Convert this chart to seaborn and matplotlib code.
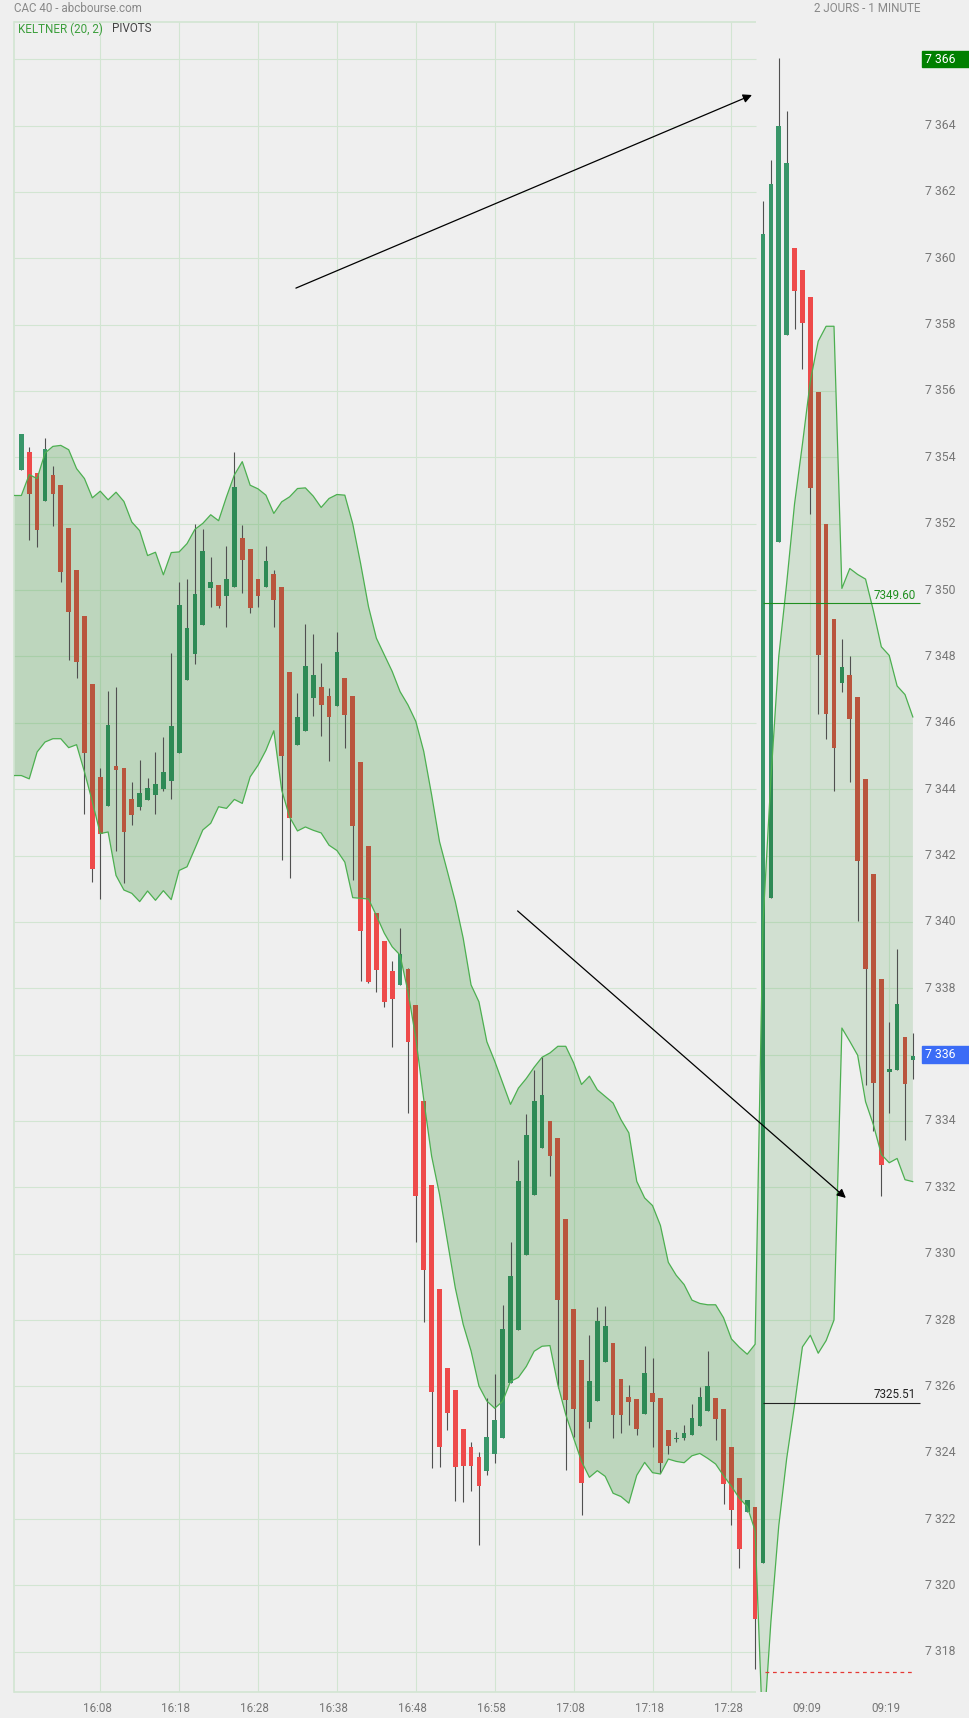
import numpy as np
import pandas as pd
import matplotlib
matplotlib.use("Agg")
import matplotlib.pyplot as plt
import matplotlib.transforms as mtransforms
from matplotlib.patches import Rectangle
import seaborn as sns

# ---------------------------------------------------------------------------
# DATA  (CAC 40, 1 minute candles, last 94 of day 1 + 20 of day 2)
# ---------------------------------------------------------------------------
opens = [
    7353.61, 7354.16, 7353.53, 7352.67, 7353.46, 7353.16, 7351.86, 7350.59, 7349.21, 7347.16,
    7344.38, 7343.50, 7344.71, 7344.65, 7343.69, 7343.47, 7343.66, 7343.83, 7344.01, 7344.26,
    7345.08, 7347.29, 7348.07, 7348.94, 7350.06, 7350.16, 7349.82, 7350.09, 7351.58, 7351.25,
    7350.34, 7350.09, 7350.49, 7350.10, 7347.54, 7345.33, 7345.76, 7346.74, 7347.09, 7346.81,
    7346.50, 7347.34, 7346.80, 7344.83, 7342.30, 7340.26, 7339.42, 7338.51, 7338.10, 7338.57,
    7337.49, 7334.60, 7332.07, 7328.93, 7326.55, 7325.89, 7324.71, 7324.17, 7323.87, 7323.45,
    7323.96, 7324.46, 7326.10, 7327.71, 7329.95, 7331.76, 7333.17, 7333.99, 7333.48, 7331.04,
    7328.32, 7326.81, 7324.94, 7325.55, 7326.75, 7327.30, 7326.21, 7325.67, 7325.61, 7325.16,
    7325.79, 7325.65, 7324.68, 7324.40, 7324.44, 7324.53, 7324.81, 7325.26, 7325.66, 7325.32,
    7324.17, 7323.25, 7322.21, 7322.36,
    7320.67, 7340.72, 7351.45, 7357.68, 7360.30, 7359.65, 7358.83, 7355.97, 7352.00, 7349.12,
    7347.21, 7347.45, 7346.78, 7344.30, 7341.43, 7338.27, 7335.48, 7335.53, 7336.52, 7335.84,
]
highs = [
    7354.70, 7354.31, 7353.53, 7354.58, 7353.74, 7353.16, 7351.86, 7350.59, 7349.21, 7347.16,
    7344.63, 7346.97, 7347.08, 7344.65, 7344.21, 7344.87, 7344.33, 7345.12, 7345.56, 7348.09,
    7350.24, 7350.32, 7351.98, 7351.85, 7351.00, 7350.16, 7351.34, 7354.15, 7351.95, 7351.25,
    7350.34, 7351.34, 7350.59, 7350.10, 7347.54, 7346.91, 7348.98, 7348.68, 7347.79, 7347.06,
    7348.74, 7347.34, 7346.80, 7344.83, 7342.30, 7340.26, 7339.42, 7338.81, 7339.81, 7338.60,
    7337.49, 7334.60, 7332.07, 7328.93, 7326.55, 7325.89, 7324.71, 7324.33, 7324.03, 7325.66,
    7326.36, 7328.46, 7330.35, 7332.82, 7334.21, 7335.54, 7335.92, 7333.99, 7333.48, 7331.04,
    7328.32, 7326.81, 7327.55, 7328.39, 7328.42, 7327.30, 7326.21, 7326.03, 7325.61, 7327.22,
    7326.85, 7325.65, 7324.68, 7324.62, 7324.85, 7325.47, 7325.98, 7327.07, 7325.66, 7325.32,
    7324.17, 7323.25, 7322.57, 7322.36,
    7361.72, 7362.96, 7366.05, 7364.44, 7360.30, 7359.65, 7358.83, 7355.97, 7352.00, 7349.12,
    7348.54, 7348.01, 7346.78, 7344.30, 7341.43, 7338.27, 7336.99, 7339.19, 7336.52, 7336.65,
]
lows = [
    7353.61, 7351.52, 7351.31, 7352.67, 7351.94, 7350.25, 7347.90, 7347.36, 7343.26, 7341.19,
    7340.69, 7343.50, 7342.14, 7341.16, 7342.92, 7343.38, 7343.66, 7343.26, 7343.93, 7343.71,
    7345.08, 7347.29, 7347.77, 7348.94, 7349.48, 7349.46, 7348.88, 7350.09, 7349.91, 7349.31,
    7349.49, 7350.09, 7348.88, 7341.86, 7341.32, 7345.33, 7345.76, 7346.20, 7345.60, 7344.84,
    7346.50, 7345.25, 7341.27, 7338.22, 7338.16, 7337.89, 7337.44, 7336.23, 7338.10, 7334.25,
    7330.36, 7327.93, 7323.53, 7323.57, 7324.70, 7322.56, 7322.53, 7322.86, 7321.22, 7323.33,
    7323.68, 7324.46, 7326.10, 7327.71, 7329.95, 7331.76, 7333.17, 7332.35, 7325.95, 7323.49,
    7324.49, 7322.13, 7324.76, 7325.55, 7326.75, 7324.45, 7324.60, 7324.84, 7324.54, 7325.16,
    7324.18, 7323.38, 7323.96, 7324.31, 7324.39, 7324.53, 7324.81, 7325.26, 7324.38, 7322.46,
    7321.82, 7320.52, 7322.21, 7317.47,
    7320.67, 7340.72, 7351.45, 7357.68, 7357.86, 7356.66, 7352.29, 7346.26, 7345.51, 7343.93,
    7346.92, 7344.23, 7340.04, 7335.09, 7333.69, 7331.73, 7334.24, 7335.53, 7333.44, 7335.25,
]
closes = [
    7354.70, 7352.90, 7351.82, 7354.25, 7352.88, 7350.55, 7349.33, 7347.84, 7345.08, 7341.60,
    7342.65, 7345.92, 7344.58, 7342.71, 7343.23, 7343.87, 7344.02, 7344.17, 7344.53, 7345.89,
    7349.54, 7348.87, 7349.87, 7351.19, 7350.25, 7349.52, 7350.34, 7353.10, 7350.90, 7349.46,
    7349.82, 7350.88, 7349.70, 7344.99, 7343.13, 7346.18, 7347.72, 7347.45, 7346.53, 7346.17,
    7348.14, 7346.24, 7342.90, 7339.73, 7338.19, 7338.55, 7337.59, 7337.68, 7339.03, 7336.38,
    7331.73, 7329.50, 7325.82, 7324.17, 7325.20, 7323.57, 7323.60, 7323.60, 7322.99, 7324.47,
    7324.98, 7327.74, 7329.32, 7332.18, 7333.57, 7334.59, 7334.77, 7332.95, 7328.61, 7325.58,
    7325.33, 7323.08, 7326.16, 7327.96, 7327.81, 7325.13, 7325.15, 7325.52, 7324.73, 7326.39,
    7325.52, 7323.70, 7324.19, 7324.44, 7324.59, 7325.06, 7325.68, 7326.02, 7325.02, 7323.06,
    7322.29, 7321.10, 7322.57, 7318.98,
    7360.73, 7362.25, 7363.98, 7362.87, 7359.01, 7358.06, 7353.08, 7348.03, 7346.26, 7345.23,
    7347.68, 7346.10, 7341.84, 7338.58, 7335.15, 7332.68, 7335.58, 7337.53, 7335.10, 7335.95,
]

# Keltner (20, 2) bands, one value per candle slot from -1 to 113
band_x = list(range(-1, 114))
keltner_up = [
    7352.85,
    7352.85, 7353.48, 7353.36, 7354.13, 7354.33, 7354.36, 7354.23, 7353.66, 7353.36, 7352.78,
    7352.98, 7352.72, 7352.95, 7352.67, 7352.05, 7351.79, 7351.04, 7351.14, 7350.46, 7351.13,
    7351.15, 7351.40, 7351.83, 7352.01, 7352.27, 7352.09, 7352.81, 7353.47, 7353.87, 7353.16,
    7353.05, 7352.86, 7352.31, 7352.66, 7352.81, 7353.06, 7353.08, 7352.83, 7352.49, 7352.76,
    7352.88, 7352.86, 7352.00, 7350.80, 7349.50, 7348.55, 7348.05, 7347.55, 7346.94, 7346.54,
    7346.04, 7345.14, 7343.83, 7342.42, 7341.52, 7340.61, 7339.51, 7338.10, 7337.59, 7336.39,
    7335.80, 7335.15, 7334.50, 7334.99, 7335.28, 7335.62, 7335.92, 7336.05, 7336.25, 7336.25,
    7335.75, 7335.10, 7335.35, 7334.94, 7334.74, 7334.54, 7334.04, 7333.64, 7332.18, 7331.68,
    7331.45, 7330.85, 7329.74, 7329.35, 7329.07, 7328.60, 7328.50, 7328.46, 7328.46, 7328.07,
    7327.43, 7327.18, 7326.97, 7327.27,
    7339.97, 7344.30, 7348.00, 7350.20, 7352.60, 7354.40, 7356.30, 7357.50, 7357.95, 7357.95,
    7350.05, 7350.65, 7350.47, 7350.33, 7349.37, 7348.29, 7348.03, 7347.11, 7346.85, 7346.17,
]
keltner_low = [
    7344.41,
    7344.41, 7344.31, 7345.12, 7345.42, 7345.52, 7345.52, 7345.25, 7345.34, 7344.52, 7343.62,
    7342.66, 7342.71, 7341.40, 7340.96, 7340.86, 7340.61, 7340.93, 7340.65, 7340.94, 7340.67,
    7341.55, 7341.66, 7342.21, 7342.77, 7342.97, 7343.47, 7343.42, 7343.69, 7343.57, 7344.37,
    7344.72, 7345.17, 7345.76, 7343.97, 7343.16, 7342.74, 7342.86, 7342.76, 7342.68, 7342.31,
    7342.15, 7341.80, 7340.73, 7340.71, 7340.69, 7340.19, 7339.66, 7339.25, 7339.00, 7337.90,
    7336.49, 7334.65, 7332.94, 7331.79, 7330.38, 7328.97, 7327.87, 7327.07, 7326.01, 7325.56,
    7325.34, 7325.55, 7326.15, 7326.27, 7326.60, 7327.06, 7327.21, 7327.23, 7326.05, 7325.15,
    7324.44, 7323.74, 7323.26, 7323.46, 7323.29, 7322.78, 7322.68, 7322.48, 7323.32, 7323.71,
    7323.40, 7323.36, 7323.81, 7323.74, 7323.70, 7323.91, 7323.98, 7323.83, 7323.66, 7323.31,
    7322.99, 7322.63, 7322.38, 7321.65,
    7315.30, 7318.90, 7321.80, 7323.82, 7325.44, 7327.19, 7327.54, 7327.00, 7327.38, 7328.00,
    7336.80, 7336.40, 7335.98, 7334.58, 7333.88, 7332.99, 7332.74, 7332.87, 7332.23, 7332.17,
]

LAST_DAY1 = 93                      # last candle of day 1
time_pos    = [10, 20, 30, 40, 50, 60, 70, 80, 90, 100, 110]
time_labels = ["16:08", "16:18", "16:28", "16:38", "16:48", "16:58",
               "17:08", "17:18", "17:28", "09:09", "09:19"]
price_ticks = list(range(7318, 7367, 2))
day_high    = 7366
last_price  = 7336
pivot_r     = 7349.60
pivot_s     = 7325.51
prev_low    = 7317.40

arrow_up_start, arrow_up_end = (34.8, 7359.10), (92.6, 7364.92)
arrow_dn_start, arrow_dn_end = (62.9, 7340.33), (104.5, 7331.68)

# ---------------------------------------------------------------------------
# STYLE
# ---------------------------------------------------------------------------
COLORS = {
    "bg"       : "#efefef",
    "grid"     : "#d2e5d2",
    "fill"     : "#4a9e4a",
    "band"     : "#4caf50",
    "red"      : "#ee4a4a",
    "red_in"   : "#b9553d",
    "green"    : "#389669",
    "green_in" : "#2e8a55",
    "wick"     : "#505050",
    "label"    : "#777777",
}

sns.set_theme(style="white", rc={"axes.facecolor": COLORS["bg"],
                                 "figure.facecolor": COLORS["bg"]})
plt.rcParams["font.family"] = ["Roboto", "DejaVu Sans"]
FS = 8.4

W, H = 969, 1718
fig = plt.figure(figsize=(W / 100, H / 100), dpi=100)
ax = fig.add_axes([14 / W, 26 / H, 906 / W, 1670 / H])
XMIN, XMAX = -0.93, 113.9
YMIN, YMAX = 7316.79, 7367.12
X_SPLIT = 93.15

df = pd.DataFrame({"o": opens, "h": highs, "l": lows, "c": closes})
df["i"] = np.arange(len(df))
bands = pd.DataFrame({"x": band_x, "up": keltner_up, "low": keltner_low})

# ---------------------------------------------------------------------------
# BANDS (fills), day 1 darker, day 2 lighter
# ---------------------------------------------------------------------------
b1 = bands[bands["x"] <= LAST_DAY1]
b2 = bands[bands["x"] >= LAST_DAY1]
poly1 = ax.fill(np.r_[b1["x"], b1["x"][::-1]], np.r_[b1["up"], b1["low"][::-1]],
                color=COLORS["fill"], alpha=0.30, lw=0, zorder=1)[0]
poly2 = ax.fill(np.r_[b2["x"], b2["x"][::-1]], np.r_[b2["up"], b2["low"][::-1]],
                color=COLORS["fill"], alpha=0.18, lw=0, zorder=1)[0]

# grid: full on day 1, only visible inside the band on day 2
ax.hlines(price_ticks, XMIN, X_SPLIT, color=COLORS["grid"], lw=0.8, zorder=0.5)
ax.vlines(time_pos[:9], YMIN, YMAX, color=COLORS["grid"], lw=0.8, zorder=0.5)
ax.hlines([YMIN, YMAX], XMIN, X_SPLIT, color=COLORS["grid"], lw=1.2, zorder=0.5, clip_on=False)
g2h = ax.hlines(price_ticks, X_SPLIT, XMAX, color=COLORS["grid"], lw=0.8, zorder=0.5)
g2v = ax.vlines(time_pos[9:], YMIN, YMAX, color=COLORS["grid"], lw=0.8, zorder=0.5)
g2h.set_clip_path(poly2)
g2v.set_clip_path(poly2)

# ---------------------------------------------------------------------------
# CANDLES
# ---------------------------------------------------------------------------
rising = df["c"] >= df["o"]
body_lo = np.minimum(df["o"], df["c"])
body_h = np.maximum((df["c"] - df["o"]).abs(), 0.05)
col_out = np.where(rising, COLORS["green"], COLORS["red"])
col_in = np.where(rising, COLORS["green_in"], COLORS["red_in"])

ax.vlines(df["i"], df["l"], df["h"], color=COLORS["wick"], lw=0.8, zorder=2)
ax.bar(df["i"], body_h, bottom=body_lo, width=0.6, color=col_out, lw=0, zorder=2.1)
for poly in (poly1, poly2):
    bars = ax.bar(df["i"], body_h, bottom=body_lo, width=0.6, color=col_in, lw=0, zorder=2.2)
    for b in bars:
        b.set_clip_path(poly)

# band lines
sns.lineplot(data=bands, x="x", y="up", ax=ax, color=COLORS["band"], linewidth=0.9,
             zorder=3, estimator=None, sort=False)
sns.lineplot(data=bands, x="x", y="low", ax=ax, color=COLORS["band"], linewidth=0.9,
             zorder=3, estimator=None, sort=False)

# ---------------------------------------------------------------------------
# PIVOT LEVELS + ARROWS
# ---------------------------------------------------------------------------
ax.hlines(pivot_r, 93.95, XMAX, color="#1f8f1f", lw=0.8, zorder=3, clip_on=False)
ax.text(113.4, pivot_r + 0.05, f"{pivot_r:.2f}", color="#1f8f1f", fontsize=FS,
        ha="right", va="bottom", zorder=5)
ax.hlines(pivot_s, 93.95, XMAX, color="#222222", lw=0.8, zorder=3, clip_on=False)
ax.text(113.4, pivot_s + 0.05, f"{pivot_s:.2f}", color="#222222", fontsize=FS,
        ha="right", va="bottom", zorder=5)
ax.hlines(prev_low, 94.2, 113.3, color="#e53935", lw=0.9, linestyles=(0, (3, 3)), zorder=3)

for start, end in [(arrow_up_start, arrow_up_end), (arrow_dn_start, arrow_dn_end)]:
    ax.annotate("", xy=end, xytext=start, zorder=4,
                arrowprops=dict(arrowstyle="-|>", color="black", lw=0.9,
                                mutation_scale=13, shrinkA=0, shrinkB=0))

# ---------------------------------------------------------------------------
# AXES, LABELS
# ---------------------------------------------------------------------------
ax.set_xlim(XMIN, XMAX)
ax.set_ylim(YMIN, YMAX)
ax.set_xticks([])
ax.set_yticks([])
ax.set_xlabel("")
ax.set_ylabel("")
for s in ["top", "right", "bottom"]:
    ax.spines[s].set_visible(False)
ax.spines["left"].set_color(COLORS["grid"])
ax.spines["left"].set_linewidth(1.2)

# price scale on the right
ty = mtransforms.blended_transform_factory(fig.transFigure, ax.transData)
for p in price_ticks:
    txt = f"{p:,}".replace(",", " ")
    if p == day_high:
        ax.add_patch(Rectangle((922 / W, p - 0.245), 47 / W, 0.49, transform=ty,
                               color="#008000", clip_on=False, zorder=5))
        ax.text(925 / W, p, txt, transform=ty, color="white", fontsize=FS + 0.4,
                va="center", ha="left", clip_on=False, zorder=6)
    elif p == last_price:
        ax.add_patch(Rectangle((922 / W, p - 0.26), 47 / W, 0.52, transform=ty,
                               color="#3b6cf6", clip_on=False, zorder=5))
        ax.text(925 / W, p, txt, transform=ty, color="white", fontsize=FS + 0.4,
                va="center", ha="left", clip_on=False, zorder=6)
    else:
        ax.text(925 / W, p, txt, transform=ty, color=COLORS["label"], fontsize=FS + 0.4,
                va="center", ha="left", clip_on=False)

# time labels at the bottom
tx = mtransforms.blended_transform_factory(ax.transData, fig.transFigure)
for pos, lab in zip(time_pos, time_labels):
    ax.text(pos - 0.4, 10 / H, lab, transform=tx, color=COLORS["label"], fontsize=FS,
            ha="center", va="center", clip_on=False)

# header
fig.text(14 / W, 1 - 9 / H, "CAC 40 - abcbourse.com", color="#888888", fontsize=FS,
         ha="left", va="center")
fig.text(920 / W, 1 - 9 / H, "2 JOURS - 1 MINUTE", color="#888888", fontsize=FS,
         ha="right", va="center")
fig.text(18 / W, 1 - 29 / H, "KELTNER (20, 2)", color="#3c9f3c", fontsize=FS,
         ha="left", va="center")
fig.text(112 / W, 1 - 29 / H, "PIVOTS", color="#444444", fontsize=FS,
         ha="left", va="center")

fig.savefig("out.png", dpi=100, facecolor=COLORS["bg"])
